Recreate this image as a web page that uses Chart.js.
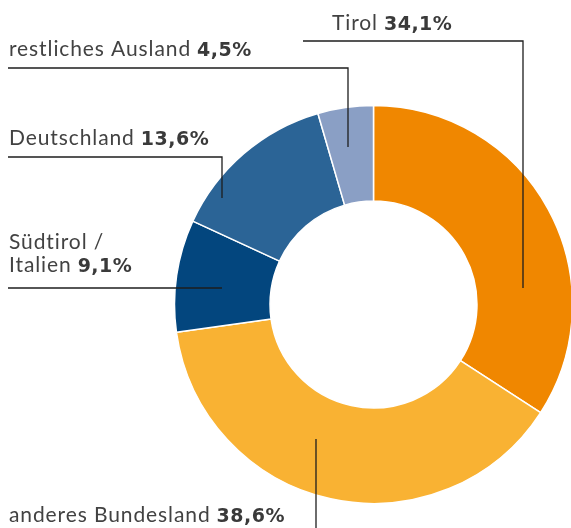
<!DOCTYPE html>
<html>
<head>
<meta charset="utf-8">
<script src="https://cdn.jsdelivr.net/npm/chart.js@4/dist/chart.umd.min.js"></script>
<style>
  html, body { margin: 0; padding: 0; background: #fff; overflow: hidden; }
  canvas { display: block; }
</style>
</head>
<body>
<canvas id="herkunftChart" width="571" height="528"></canvas>
<script>
// Herkunft der Gäste (Anteile in %)
const regions = ["Tirol", "anderes Bundesland", "Südtirol / Italien", "Deutschland", "restliches Ausland"];
const shares = [34.1, 38.6, 9.1, 13.6, 4.5];
const shareLabels = ["34,1%", "38,6%", "9,1%", "13,6%", "4,5%"];
const colors = ["#f08700", "#f9b233", "#03467e", "#2b6496", "#8a9fc5"];

// Beschriftung: Textzeilen je Segment
const labelLines = [
  ["Tirol"],
  ["anderes Bundesland"],
  ["Südtirol /", "Italien"],
  ["Deutschland"],
  ["restliches Ausland"]
];

// Position der Beschriftungen und Führungslinien (Layout)
const labelLayout = [
  { x: 332, y: 30, line: [[303, 41], [523, 41], [523, 288]] },
  { x: 9, y: 522, line: [[316, 439], [316, 528]] },
  { x: 9, y: 249, line: [[8, 288], [222, 288]] },
  { x: 9, y: 145, line: [[8, 157], [222, 157], [222, 198]] },
  { x: 9, y: 56, line: [[8, 68], [348, 68], [348, 147]] }
];

const regularFont = "400 21px Lato";
const boldFont = "bold 19px 'DejaVu Sans'";

const leaderLabels = {
  id: "leaderLabels",
  afterDraw(chart) {
    const ctx = chart.ctx;
    ctx.save();
    ctx.strokeStyle = "#1e1e1e";
    ctx.lineWidth = 1.3;
    labelLayout.forEach((l) => {
      ctx.beginPath();
      l.line.forEach((p, i) => {
        if (i === 0) ctx.moveTo(p[0], p[1]);
        else ctx.lineTo(p[0], p[1]);
      });
      ctx.stroke();
    });

    ctx.textBaseline = "alphabetic";
    ctx.textAlign = "left";
    labelLayout.forEach((l, i) => {
      const lines = labelLines[i];
      lines.forEach((txt, j) => {
        const y = l.y + j * 23;
        ctx.font = regularFont;
        ctx.letterSpacing = "0.9px";
        ctx.fillStyle = "#424242";
        ctx.fillText(txt, l.x, y);
        if (j === lines.length - 1) {
          const w = ctx.measureText(txt).width;
          ctx.font = boldFont;
          ctx.letterSpacing = "0.5px";
          ctx.fillStyle = "#3a3a3a";
          ctx.fillText(shareLabels[i], l.x + w + 6, y);
        }
      });
    });
    ctx.restore();
  }
};

new Chart(document.getElementById("herkunftChart"), {
  type: "doughnut",
  data: {
    labels: regions,
    datasets: [{
      data: shares,
      backgroundColor: colors,
      borderColor: "#ffffff",
      borderWidth: 1.5
    }]
  },
  options: {
    responsive: false,
    devicePixelRatio: 1,
    animation: false,
    radius: 199,
    cutout: "52%",
    layout: { padding: { left: 176, right: 0, top: 106, bottom: 25 } },
    plugins: {
      legend: { display: false },
      tooltip: { enabled: false }
    }
  },
  plugins: [leaderLabels]
});
</script>
</body>
</html>
